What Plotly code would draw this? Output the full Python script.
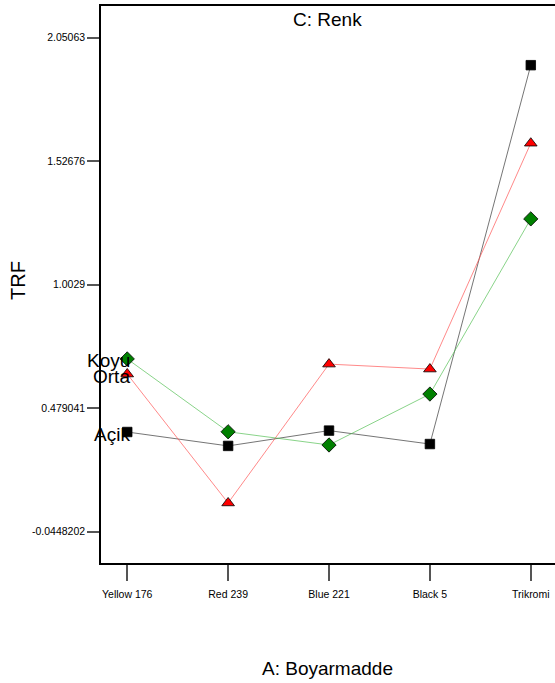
import plotly.graph_objects as go

categories = ["Yellow 176", "Red 239", "Blue 221", "Black 5", "Trikromi"]
acik = [0.378, 0.319, 0.384, 0.327, 1.934]
orta = [0.624, 0.077, 0.666, 0.645, 1.603]
koyu = [0.688, 0.379, 0.323, 0.539, 1.282]
ytick_vals = [-0.0448202, 0.479041, 1.0029, 1.52676, 2.05063]
ytick_text = ["-0.0448202", "0.479041", "1.0029", "1.52676", "2.05063"]

FONT = "Liberation Sans, Arial, sans-serif"
xs = list(range(len(categories)))

fig = go.Figure()
series = [
    ("Açik", acik, "rgba(50,50,50,0.85)", "square", "black", 9.5),
    ("Orta", orta, "rgba(255,80,80,0.85)", "triangle-up", "red", 11),
    ("Koyu", koyu, "rgba(80,190,80,0.85)", "diamond", "green", 11),
]
for name, vals, lc, sym, mc, ms in series:
    fig.add_trace(go.Scatter(
        x=xs, y=vals, mode="lines+markers", name=name,
        line=dict(color=lc, width=0.8),
        marker=dict(symbol=sym, color=mc, size=ms, line=dict(color="black", width=0.8)),
        showlegend=False, cliponaxis=False,
    ))

annotations = []
for name, vals, *_ in series:
    annotations.append(dict(x=0, y=vals[0], xref="x", yref="y", text=name,
                            showarrow=False, xanchor="right", yanchor="middle",
                            xshift=5, yshift=-2,
                            font=dict(family=FONT, size=19, color="black")))
annotations.append(dict(x=(327.5 - 101) / 454, y=1, xref="paper", yref="paper",
                        text="C: Renk", showarrow=False, xanchor="center", yanchor="top",
                        yshift=-1, font=dict(family=FONT, size=19, color="black")))
annotations.append(dict(x=(327.5 - 101) / 454, y=0, xref="paper", yref="paper",
                        text="A: Boyarmadde", showarrow=False, xanchor="center", yanchor="middle",
                        yshift=-105, font=dict(family=FONT, size=19, color="black")))
annotations.append(dict(x=0, y=(563 - 281) / 557, xref="paper", yref="paper",
                        text="TRF", showarrow=False, xanchor="center", yanchor="middle",
                        xshift=-83, textangle=-90,
                        font=dict(family=FONT, size=20, color="black")))

fig.update_layout(
    width=555, height=683,
    margin=dict(l=101, r=0, t=6, b=120),
    paper_bgcolor="white", plot_bgcolor="white",
    annotations=annotations,
    font=dict(family=FONT, size=11, color="black"),
)
fig.update_xaxes(
    range=[-0.26, 4.24], tickvals=xs, ticktext=categories,
    showgrid=False, zeroline=False, showline=True, linecolor="black", linewidth=1.5,
    mirror=True, ticks="outside", ticklen=16, tickcolor="#555", tickwidth=1.5,
    ticklabelstandoff=5,
    tickfont=dict(family=FONT, size=10.5, color="black"),
)
fig.update_yaxes(
    range=[-0.1776, 2.185], tickvals=ytick_vals, ticktext=ytick_text,
    showgrid=False, zeroline=False, showline=True, linecolor="black", linewidth=1.5,
    ticks="outside", ticklen=12, tickcolor="#555", tickwidth=1.5,
    tickfont=dict(family=FONT, size=10.5, color="black"),
)

fig.write_html("out.html", config={"displayModeBar": False},
               post_script="document.body.style.margin='0';document.body.style.overflow='hidden';")
